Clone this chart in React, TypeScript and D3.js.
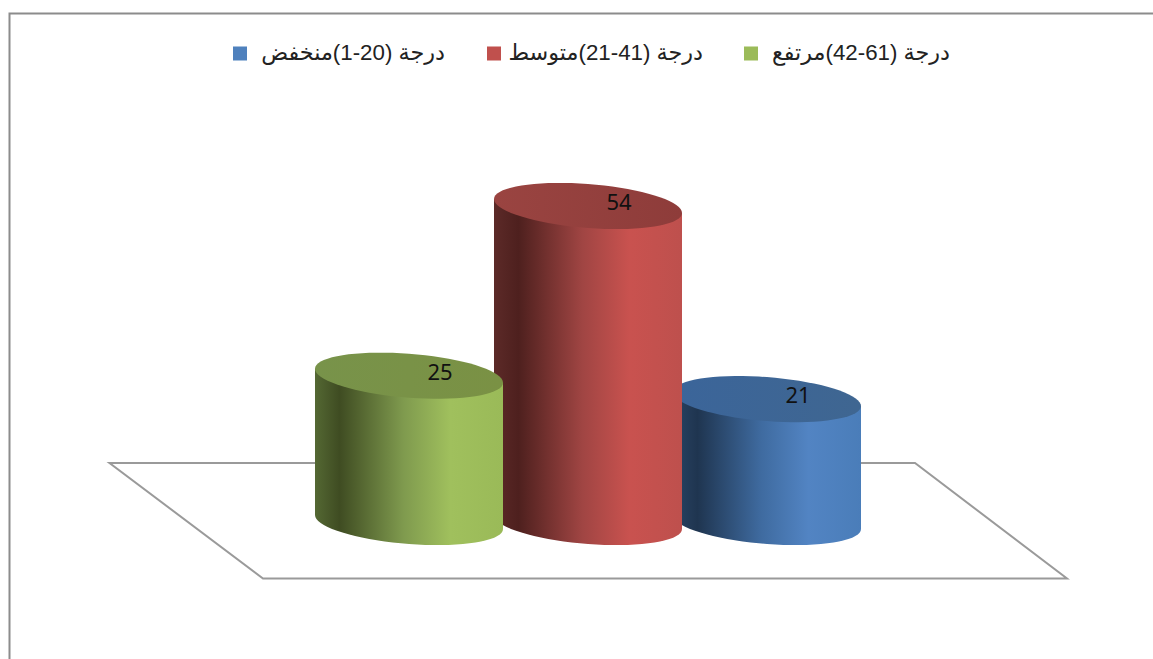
import React from "react";
import * as d3 from "d3";

const categories = ["high", "medium", "low"];
const values = [25, 54, 21];
const legendLabels = [
  "درجة (\u206642-61\u2069)مرتفع",
  "درجة (\u206621-41\u2069)متوسط",
  "درجة (\u20661-20\u2069)منخفض",
];
const swatchColors = ["#9BBB59", "#C0504D", "#4F81BD"];
const sideStops = [
  ["#546833", "#3F4C22", "#7F9A4E", "#A0C05D", "#9ABA58"],
  ["#5C2A28", "#4E201E", "#A04543", "#C9524F", "#BE504D"],
  ["#2A4464", "#1F3550", "#3F6BA0", "#5284C3", "#4A7DB9"],
];
const capStops = [
  ["#78934A", "#7A9144"],
  ["#9A4441", "#8E3C3A"],
  ["#3B659A", "#3F6691"],
];
const stopOffsets = ["0%", "13%", "47%", "72%", "100%"];

const W = 1153, H = 659;
const x = d3.scalePoint<string>().domain(categories).range([409, 767]);
const y = d3.scaleLinear().domain([0, 54]).range([522, 206]);
const RX = 94, RY = 22, SKEW = 7;
const angles = d3.range(0, 73).map((i) => (i * Math.PI) / 36);
const line = d3.line<[number, number]>();

const pt = (cx: number, cy: number, t: number): [number, number] => [
  cx + RX * Math.cos(t),
  cy + SKEW * Math.cos(t) + RY * Math.sin(t),
];

function capPath(cx: number, cy: number) {
  return line(angles.map((t) => pt(cx, cy, t))) + "Z";
}
function bodyPath(cx: number, top: number, base: number) {
  const bottom = angles.filter((t) => t <= Math.PI + 1e-6).map((t) => pt(cx, base, t));
  return line([pt(cx, top, 0), ...bottom, pt(cx, top, Math.PI)]) + "Z";
}

// drawn back to front: low, medium, high
const drawOrder = [2, 1, 0];
const legendOrder = [
  { i: 0, sx: 744, tx: 950 },
  { i: 1, sx: 487, tx: 703 },
  { i: 2, sx: 233, tx: 445 },
];

export default function App() {
  return (
    <svg
      width={W}
      height={H}
      viewBox={`0 0 ${W} ${H}`}
      style={{ position: "absolute", left: 0, top: 0, display: "block", background: "#fff" }}
    >
      <defs>
        {categories.map((c, i) => (
          <React.Fragment key={c}>
            <linearGradient id={`side-${c}`} x1="0" x2="1" y1="0" y2="0">
              {sideStops[i].map((col, j) => (
                <stop key={j} offset={stopOffsets[j]} stopColor={col} />
              ))}
            </linearGradient>
            <linearGradient id={`cap-${c}`} x1="0" x2="1" y1="0" y2="0">
              <stop offset="0%" stopColor={capStops[i][0]} />
              <stop offset="100%" stopColor={capStops[i][1]} />
            </linearGradient>
          </React.Fragment>
        ))}
      </defs>

      <path d={`M9.5,${H}V13.5H${W}`} fill="none" stroke="#8C8C8C" strokeWidth={2} />

      <path
        d={`M109.5,463H915L1067,578.5H263Z`}
        fill="#fff"
        stroke="#9A9A9A"
        strokeWidth={2}
      />

      {drawOrder.map((i) => {
        const c = categories[i];
        const cx = x(c)!;
        const top = y(values[i]);
        return (
          <g key={c}>
            <path d={bodyPath(cx, top, y(0))} fill={`url(#side-${c})`} />
            <path d={capPath(cx, top)} fill={`url(#cap-${c})`} />
            <text
              x={cx + 31}
              y={top - 5}
              textAnchor="middle"
              dominantBaseline="central"
              fontFamily="'Noto Sans', sans-serif"
              fontSize={22}
              fill="#111"
            >
              {values[i]}
            </text>
          </g>
        );
      })}

      {legendOrder.map(({ i, sx, tx }) => (
        <g key={i}>
          <rect x={sx} y={46.5} width={14} height={14} fill={swatchColors[i]} />
          <text
            x={tx}
            y={60}
            direction="rtl"
            textAnchor="start"
            fontFamily="'Liberation Sans', 'DejaVu Sans', sans-serif"
            fontSize={22.3}
            fill="#222"
          >
            {legendLabels[i]}
          </text>
        </g>
      ))}
    </svg>
  );
}
